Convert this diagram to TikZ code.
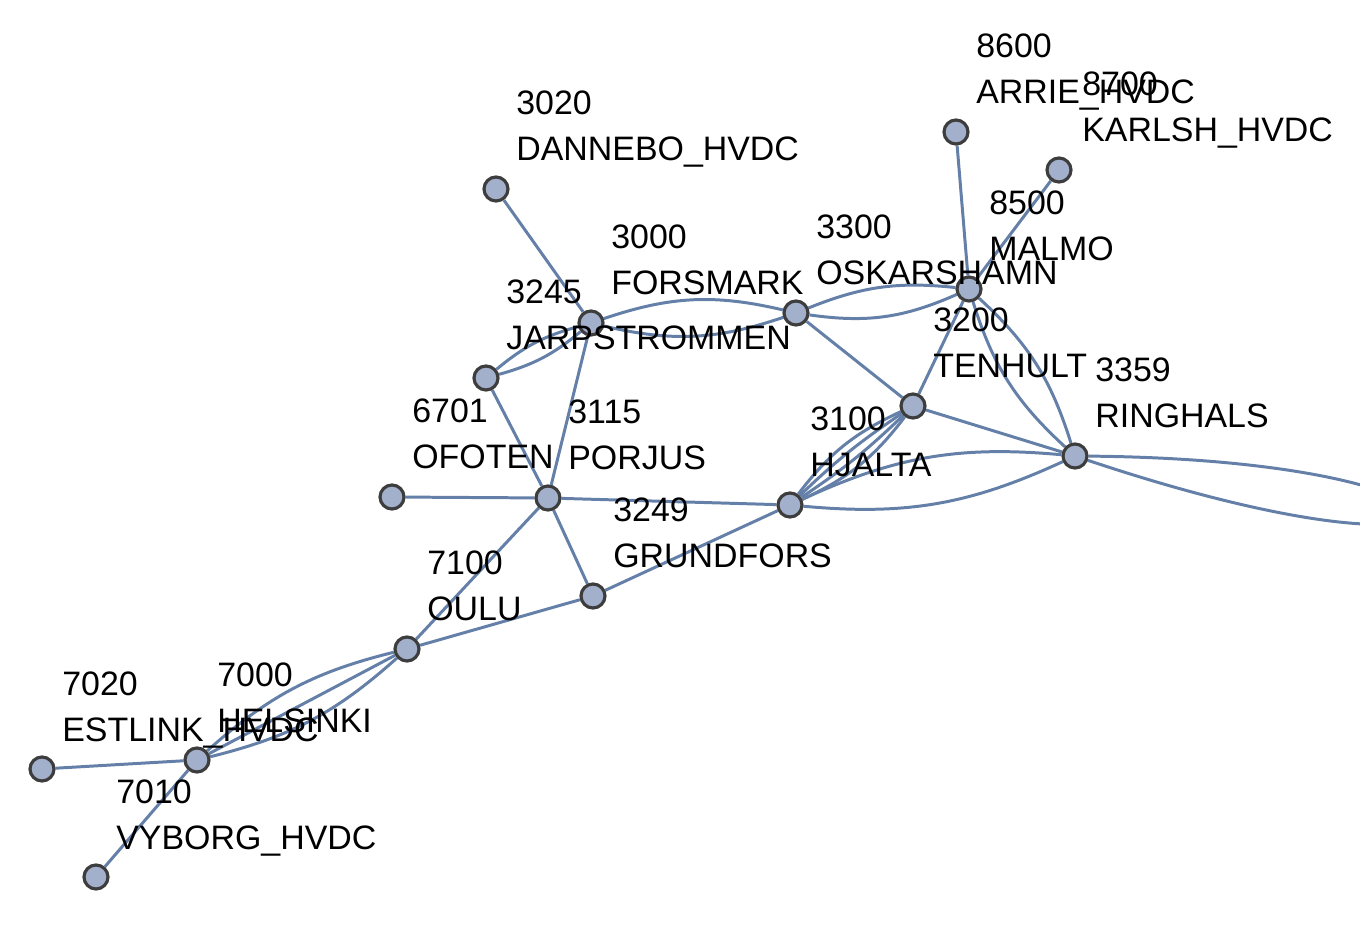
\documentclass[tikz,border=0pt]{standalone}
\usepackage{fontspec}
\setmainfont{Liberation Sans}
\usetikzlibrary{backgrounds}
\definecolor{nodefill}{HTML}{A2B0CC}
\definecolor{nodeborder}{HTML}{3D3D3D}
\definecolor{edgecol}{HTML}{6580A8}
\newcommand{\vlabel}[3]{%
  \node[lbl] (#1-num) at ([shift={(20,-74)}]#1) {#2};
  \node[lbl] (#1-name) at ([shift={(20,-28)}]#1) {#3};}
\begin{document}
\begin{tikzpicture}[x=0.02cm,y=-0.02cm,
  vert/.style={circle, fill=nodefill, draw=nodeborder, line width=1.8pt, minimum size=0.48cm, inner sep=0pt},
  edge/.style={draw=edgecol, line width=1.7pt},
  lbl/.style={font=\fontsize{19.3}{23}\selectfont, inner sep=0pt, anchor=base west, text=black}]
\useasboundingbox (0,0) rectangle (1360,942);
\clip (0,0) rectangle (1360,942);
% vertices
\node[vert] (n3020) at (496,189) {};
\node[vert] (n3000) at (591,323) {};
\node[vert] (n3245) at (486,378) {};
\node[vert] (n3300) at (796,313) {};
\node[vert] (n8500) at (969,289) {};
\node[vert] (n8600) at (956,132) {};
\node[vert] (n8700) at (1059,170) {};
\node[vert] (n3200) at (913,406) {};
\node[vert] (n3359) at (1075,456) {};
\node[vert] (n3100) at (790,505) {};
\node[vert] (n3115) at (548,498) {};
\node[vert] (n6701) at (392,497) {};
\node[vert] (n3249) at (593,596) {};
\node[vert] (n7100) at (407,649) {};
\node[vert] (n7000) at (197,760) {};
\node[vert] (n7020) at (42,769) {};
\node[vert] (n7010) at (96,877) {};
% edges
\begin{pgfonlayer}{background}
\draw[edge] (n3020) -- (n3000);
\draw[edge] (n3000) to[bend left=12] (n3245);
\draw[edge] (n3000) to[bend right=12] (n3245);
\draw[edge] (n3000) to[bend left=16] (n3300);
\draw[edge] (n3000) to[bend right=16] (n3300);
\draw[edge] (n3000) -- (n3115);
\draw[edge] (n3245) -- (n3115);
\draw[edge] (n3300) to[bend left=14] (n8500);
\draw[edge] (n3300) to[bend right=16] (n8500);
\draw[edge] (n3300) -- (n3200);
\draw[edge] (n8600) -- (n8500);
\draw[edge] (n8700) -- (n8500);
\draw[edge] (n8500) -- (n3200);
\draw[edge] (n8500) to[bend left=15] (n3359);
\draw[edge] (n8500) to[bend right=15] (n3359);
\draw[edge] (n3200) -- (n3359);
\draw[edge] (n3100) to[bend left=14] (n3200);
\draw[edge] (n3100) to[bend left=5] (n3200);
\draw[edge] (n3100) to[bend right=5] (n3200);
\draw[edge] (n3100) to[bend right=14] (n3200);
\draw[edge] (n3100) to[bend left=15] (n3359);
\draw[edge] (n3100) to[bend right=15] (n3359);
\draw[edge] (n3359) .. controls (1530,460) and (1520,605) .. (n3359);
\draw[edge] (n3115) -- (n6701);
\draw[edge] (n3115) -- (n3100);
\draw[edge] (n3115) -- (n3249);
\draw[edge] (n3115) -- (n7100);
\draw[edge] (n3249) -- (n3100);
\draw[edge] (n3249) -- (n7100);
\draw[edge] (n7100) to[bend left=14] (n7000);
\draw[edge] (n7100) -- (n7000);
\draw[edge] (n7100) to[bend right=14] (n7000);
\draw[edge] (n7000) -- (n7020);
\draw[edge] (n7000) -- (n7010);
\end{pgfonlayer}
% labels
\vlabel{n3020}{3020}{DANNEBO\_HVDC}
\vlabel{n3000}{3000}{FORSMARK}
\vlabel{n3245}{3245}{JARPSTROMMEN}
\vlabel{n3300}{3300}{OSKARSHAMN}
\vlabel{n8500}{8500}{MALMO}
\vlabel{n8600}{8600}{ARRIE\_HVDC}
\node[lbl] (n8700-num) at ([shift={(23,-74)}]n8700) {8700};
\node[lbl] (n8700-name) at ([shift={(23,-28)}]n8700) {KARLSH\_HVDC};
\vlabel{n3200}{3200}{TENHULT}
\vlabel{n3359}{3359}{RINGHALS}
\vlabel{n3100}{3100}{HJALTA}
\vlabel{n3115}{3115}{PORJUS}
\vlabel{n6701}{6701}{OFOTEN}
\vlabel{n3249}{3249}{GRUNDFORS}
\vlabel{n7100}{7100}{OULU}
\vlabel{n7000}{7000}{HELSINKI}
\vlabel{n7020}{7020}{ESTLINK\_HVDC}
\vlabel{n7010}{7010}{VYBORG\_HVDC}
\end{tikzpicture}
\end{document}
